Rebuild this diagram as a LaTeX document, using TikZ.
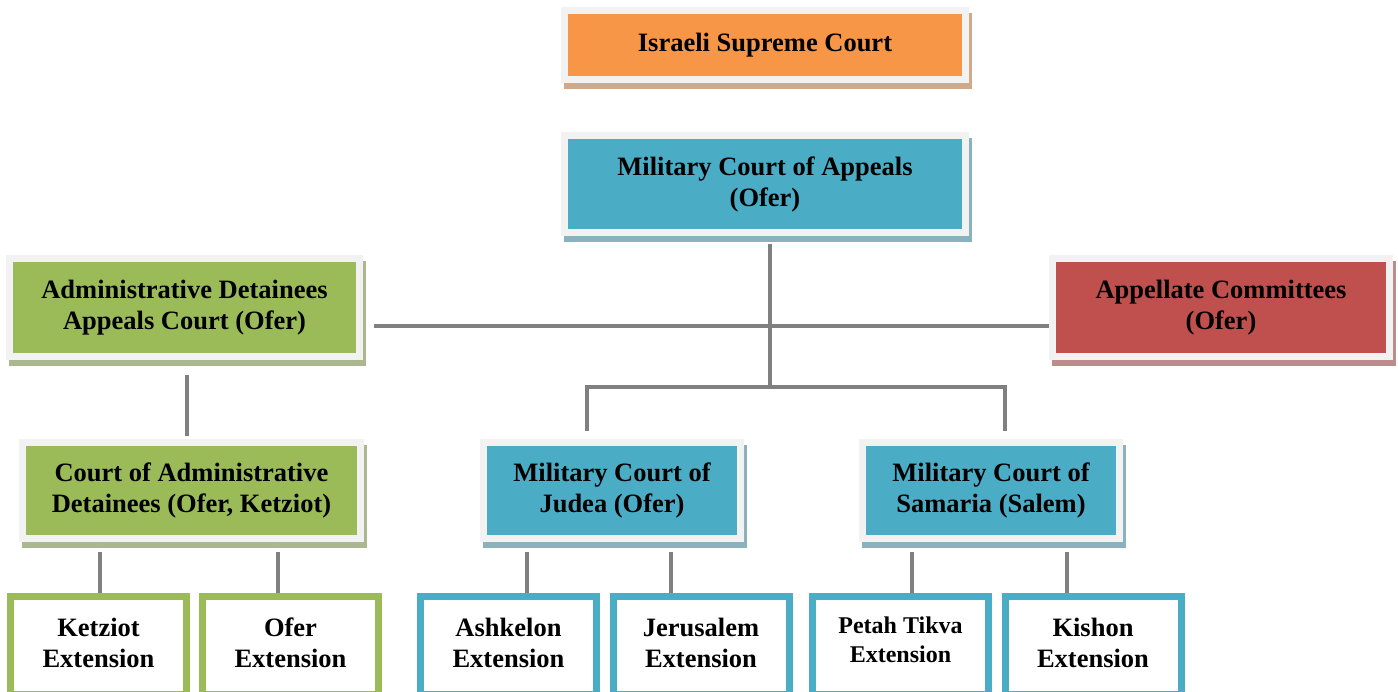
\documentclass[tikz,border=0pt]{standalone}
\usepackage{fontspec}
\setmainfont{Liberation Serif}

\definecolor{supcol}{HTML}{F79646}
\definecolor{milcol}{HTML}{4BACC6}
\definecolor{admcol}{HTML}{9BBB59}
\definecolor{comcol}{HTML}{C0504D}
\definecolor{framecol}{HTML}{F2F2F2}
\definecolor{linkcol}{HTML}{808080}

\tikzset{
    court/.style={draw=framecol, line width=7pt, fill=#1, align=center,
        preaction={draw=#1!55!gray!75, fill=#1!55!gray!75,
            transform canvas={shift={(3pt,-6pt)}}}},
    ext/.style={draw=#1, line width=7pt, fill=white, align=center,
        minimum width=176pt, minimum height=98pt, text depth=6pt},
    link/.style={draw=linkcol, line width=4pt}
}

\begin{document}
\begin{tikzpicture}[x=1pt, y=-1pt, font=\bfseries\fontsize{26.5}{31}\selectfont]
                        \clip (0,0) rectangle (1398,692);

                        \node[court=supcol, minimum width=401pt, minimum height=69pt] (sup) at (765,45) {Israeli Supreme Court};
                        \node[court=milcol, minimum width=401pt, minimum height=97pt] (appeals) at (765,184) {Military Court of Appeals\\(Ofer)};
                        \node[court=admcol, minimum width=350pt, minimum height=98pt] (adminap) at (184.5,307.5) {Administrative Detainees\\Appeals Court (Ofer)};
                        \node[court=comcol, minimum width=337pt, minimum height=98pt] (appcom) at (1221,307.5) {Appellate Committees\\(Ofer)};
                        \node[court=admcol, minimum width=338pt, minimum height=96pt] (detain) at (191.5,490.5) {Court of Administrative\\Detainees (Ofer, Ketziot)};
                        \node[court=milcol, minimum width=257pt, minimum height=96pt] (judea) at (612,490.5) {Military Court of\\Judea (Ofer)};
                        \node[court=milcol, minimum width=257pt, minimum height=96pt] (samaria) at (991,490.5) {Military Court of\\Samaria (Salem)};

                        \foreach \n/\x/\c/\t in {%
                            ketziot/98.5/admcol/Ketziot,
                            ofer/290.5/admcol/Ofer,
                            ashkelon/508.5/milcol/Ashkelon,
                            jerusalem/701/milcol/Jerusalem,
                            kishon/1093/milcol/Kishon%
                            }{
                            \node[ext=\c] (\n) at (\x,645.5) {\t\\Extension};
                        }
                        \node[ext=milcol, text depth=12pt, font=\bfseries\fontsize{24}{29}\selectfont] (petah) at (900.5,645.5) {Petah Tikva\\Extension};

                        \coordinate (hub) at (770,326);
                        \coordinate (split) at (770,387);
                        \coordinate (jl) at (587,387);
                        \coordinate (sl) at (1005,387);
                        \coordinate (al) at (187,372);

                        \draw[link, shorten <=8pt] (appeals.south -| hub) -- (split);
                        \draw[link, shorten <=10.5pt] (adminap.east |- hub) -- (appcom.west |- hub);
                        \draw[link, shorten <=15.5pt, shorten >=3pt] (adminap.south -| al) -- (detain.north -| al);
                        \draw[link, shorten <=7.5pt, shorten >=7.5pt] (judea.north -| jl) |- (split) -| (samaria.north -| sl);

                        \foreach \u/\v/\x in {%
                            detain/ketziot/100,
                            detain/ofer/278,
                            judea/ashkelon/527,
                            judea/jerusalem/671,
                            samaria/petah/912,
                            samaria/kishon/1067%
                            }{
                            \coordinate (t) at (\x,0);
                            \draw[link, shorten <=9.5pt] (\u.south -| t) -- (\v.north -| t);
                        }

                    \end{tikzpicture}
\end{document}
